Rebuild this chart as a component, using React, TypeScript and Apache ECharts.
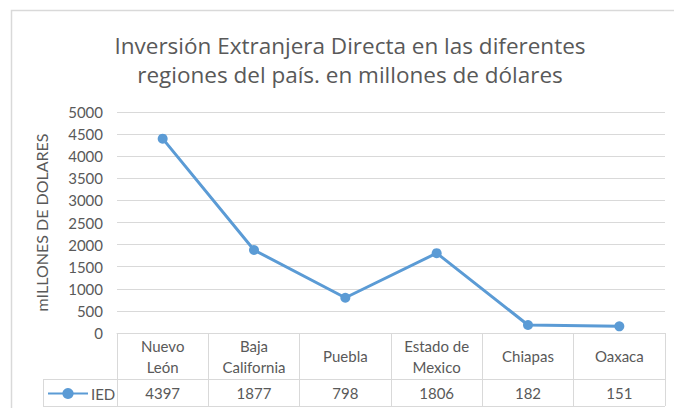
import React, { useEffect, useRef } from "react";
import * as echarts from "echarts";

const categories = ["Nuevo\nLeón", "Baja\nCalifornia", "Puebla", "Estado de\nMexico", "Chiapas", "Oaxaca"];
const iedValues = [4397, 1877, 798, 1806, 182, 151];
const seriesName = "IED";
const titleLines = ["Inversión Extranjera Directa en las diferentes", "regiones del país. en millones de dólares"];
const yAxisTitle = "mILLONES DE DOLARES";

const FONT = "Lato, 'Noto Sans', sans-serif";
const TITLE_FONT = "'Open Sans', Lato, sans-serif";
const TEXT = "#595959";
const LINE = "#d9d9d9";

export default function App() {
  const ref = useRef<HTMLDivElement>(null);
  useEffect(() => {
    document.body.style.margin = "0";
    const chart = echarts.init(ref.current!, null, { renderer: "svg" });
    const gl = 117, gr = 665, gt = 112, gb = 333;
    const rowDiv = 379, rowBot = 406, legLeft = 43;
    chart.setOption({
      animation: false,
      backgroundColor: "#ffffff",
      textStyle: { fontFamily: FONT },
      grid: { left: gl, right: 674 - gr, top: gt, bottom: 408 - gb },
      legend: {
        show: true,
        left: 47,
        top: 386,
        padding: 0,
        itemWidth: 40,
        itemHeight: 14,
        itemGap: 4,
        textStyle: { color: TEXT, fontSize: 15, fontFamily: FONT, padding: [0, 0, 0, -2] },
        data: [seriesName],
      },
      xAxis: [
        {
          type: "category",
          data: categories,
          boundaryGap: true,
          axisLine: { show: true, lineStyle: { color: LINE, width: 1 } },
          axisTick: { show: true, length: rowBot - gb, interval: 0, lineStyle: { color: LINE } },
          axisLabel: {
            interval: 0,
            margin: 23,
            verticalAlign: "middle",
            color: TEXT,
            fontSize: 15,
            lineHeight: 21,
            fontFamily: FONT,
          },
          splitLine: { show: false },
        },
        {
          type: "category",
          data: iedValues.map((v) => String(v)),
          position: "bottom",
          offset: rowDiv - gb,
          boundaryGap: true,
          axisLine: { show: false },
          axisTick: { show: false },
          axisLabel: {
            interval: 0,
            margin: 14,
            verticalAlign: "middle",
            color: TEXT,
            fontSize: 15,
            fontFamily: FONT,
          },
        },
      ],
      yAxis: {
        type: "value",
        min: 0,
        max: 5000,
        interval: 500,
        name: yAxisTitle,
        nameLocation: "middle",
        nameRotate: 90,
        nameGap: 68,
        nameTextStyle: { color: TEXT, fontSize: 16, fontFamily: FONT },
        axisLine: { show: false },
        axisTick: { show: false },
        axisLabel: { color: TEXT, fontSize: 15, margin: 14, fontFamily: FONT, formatter: (v: number) => String(v) },
        splitLine: { lineStyle: { color: LINE, width: 1 } },
      },
      series: [
        {
          name: seriesName,
          type: "line",
          data: iedValues,
          symbol: "circle",
          symbolSize: 10,
          itemStyle: { color: "#5B9BD5" },
          lineStyle: { color: "#5B9BD5", width: 3 },
        },
      ],
      graphic: [
        {
          type: "rect",
          shape: { x: 11.5, y: 10.5, width: 700, height: 500 },
          style: { fill: "none", stroke: LINE, lineWidth: 1.5 },
          silent: true,
        },
        {
          type: "text",
          x: 350,
          y: 45,
          style: { text: titleLines[0], fill: TEXT, font: `22.5px ${TITLE_FONT}`, textAlign: "center", textVerticalAlign: "middle" },
        },
        {
          type: "text",
          x: 350,
          y: 74,
          style: { text: titleLines[1], fill: TEXT, font: `22.5px ${TITLE_FONT}`, textAlign: "center", textVerticalAlign: "middle" },
        },
        {
          type: "line",
          shape: { x1: legLeft, y1: rowDiv + 0.5, x2: gr, y2: rowDiv + 0.5 },
          style: { stroke: LINE, lineWidth: 1 },
        },
        {
          type: "line",
          shape: { x1: legLeft, y1: rowBot + 0.5, x2: gr, y2: rowBot + 0.5 },
          style: { stroke: LINE, lineWidth: 1 },
        },
        {
          type: "line",
          shape: { x1: legLeft + 0.5, y1: rowDiv, x2: legLeft + 0.5, y2: rowBot },
          style: { stroke: LINE, lineWidth: 1 },
        },
      ],
    });
    return () => chart.dispose();
  }, []);
  return <div ref={ref} style={{ width: 674, height: 408 }} />;
}
